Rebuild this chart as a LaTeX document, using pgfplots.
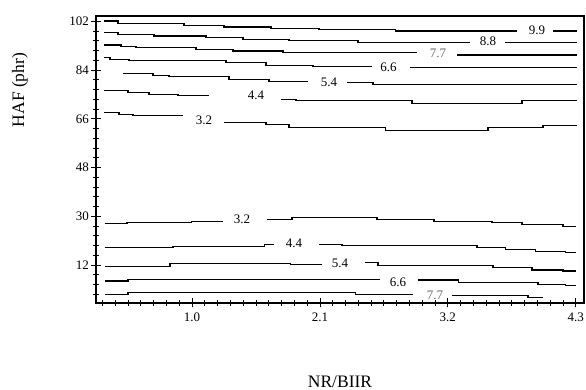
\documentclass[border=0pt]{standalone}
\usepackage{fontspec}
\setmainfont{Liberation Serif}
\usepackage{pgfplots}
\pgfplotsset{compat=1.18}
\pgfplotsset{cl/.style={const plot, black, line width=1.1pt, mark=none}}
\tikzset{lab/.style={font=\fontsize{13}{15}\selectfont, inner sep=0pt}}
\begin{document}
\begin{tikzpicture}[x=1pt,y=1pt]
\useasboundingbox (0,0) rectangle (586,390);
\begin{axis}[
  at={(96pt,87pt)}, anchor=south west,
  width=488pt, height=287pt, scale only axis,
  xmin=0.174, xmax=4.371, ymin=-2.02, ymax=103.95,
  xtick={1.0,2.1,3.2,4.3}, xticklabels={1.0,2.1,3.2,4.3},
  ytick={12,30,48,66,84,102}, yticklabels={12,30,48,66,84,102},
  minor xtick={0.23,0.34,...,4.35},
  minor ytick={1.2,4.8,...,103},
  tick pos=left, tick align=center,
  major tick length=9pt, minor tick length=6pt,
  every tick/.style={black, line width=0.8pt},
  axis line style={line width=1.3pt},
  ticklabel style={font=\fontsize{13}{15}\selectfont},
  xticklabel style={yshift=-2pt},
  yticklabel style={xshift=1pt},
  xlabel={NR/BIIR}, ylabel={HAF (phr)},
  xlabel style={at={(axis description cs:0.5,-0.294)}, anchor=base, font=\fontsize{17.5}{20}\selectfont},
  ylabel style={at={(axis description cs:-0.156,0.742)}, anchor=center, font=\fontsize{17.5}{20}\selectfont},
  clip=false
]
% 9.9
\addplot[cl] coordinates {(0.243,102.11)(0.363,101.15)(0.931,100.52)(1.275,99.89)(1.679,99.30)(2.092,98.98)(2.746,98.42)(3.795,98.42)};
\addplot[cl] coordinates {(4.104,98.42)(4.311,98.42)};
% 8.8
\addplot[cl] coordinates {(0.243,97.83)(0.363,97.20)(0.673,96.57)(1.120,95.98)(1.438,95.36)(1.834,94.99)(2.427,94.14)(3.391,94.14)};
\addplot[cl] coordinates {(3.692,94.14)(4.311,94.14)};
% 7.7
\addplot[cl] coordinates {(0.243,93.25)(0.389,92.66)(0.518,92.29)(1.034,91.67)(1.352,91.04)(1.782,90.45)(2.935,90.45)};
\addplot[cl] coordinates {(3.279,89.56)(4.311,89.56)};
% 6.6
\addplot[cl] coordinates {(0.243,88.61)(0.294,87.98)(0.458,87.61)(1.292,86.76)(1.636,85.77)(2.040,85.29)(2.548,85.29)};
\addplot[cl] coordinates {(2.875,84.92)(4.311,84.92)};
% 5.4
\addplot[cl] coordinates {(0.406,82.70)(0.664,82.08)(0.802,81.45)(1.318,80.34)(1.662,79.60)(1.997,79.60)};
\addplot[cl] coordinates {(2.333,79.38)(2.556,78.76)(4.311,78.76)};
% 4.4
\addplot[cl] coordinates {(0.243,76.54)(0.449,75.55)(0.630,75.07)(0.879,74.44)(1.146,74.44)};
\addplot[cl] coordinates {(1.765,73.22)(1.894,72.60)(2.892,71.64)(3.838,72.60)(4.311,72.60)};
% 3.2
\addplot[cl] coordinates {(0.243,68.32)(0.372,67.69)(0.492,67.06)(0.922,67.06)};
\addplot[cl] coordinates {(1.275,64.63)(1.636,63.74)(1.834,62.78)(2.660,61.53)(3.545,62.78)(4.018,63.37)(4.311,63.37)};
% bottom 3.2
\addplot[cl] coordinates {(0.251,27.37)(0.441,27.74)(0.999,28.22)(1.266,28.22)};
\addplot[cl] coordinates {(1.645,28.85)(1.860,29.44)(2.591,28.85)(3.081,28.22)(3.580,27.74)(3.838,27.00)(4.190,26.12)(4.302,26.12)};
% bottom 4.4
\addplot[cl] coordinates {(0.251,18.52)(0.836,19.00)(1.627,19.74)(1.705,19.74)};
\addplot[cl] coordinates {(2.092,19.74)(2.290,19.11)(3.451,18.52)(3.692,17.78)(3.950,17.15)(4.208,16.68)(4.302,16.68)};
% bottom 5.4
\addplot[cl] coordinates {(0.251,11.62)(0.810,12.62)(1.843,12.36)(2.118,12.36)};
\addplot[cl] coordinates {(2.487,12.84)(2.599,11.99)(3.588,11.14)(3.924,10.15)(4.190,9.78)(4.302,9.78)};
% bottom 6.6
\addplot[cl] coordinates {(0.251,6.09)(0.449,6.72)(2.617,6.72)};
\addplot[cl] coordinates {(2.943,6.46)(3.288,5.46)(3.975,4.87)(4.208,4.36)(4.302,4.36)};
% bottom 7.7
\addplot[cl] coordinates {(0.251,1.19)(0.449,1.77)(2.402,1.19)(2.900,1.19)};
\addplot[cl] coordinates {(3.236,0.81)(3.889,0.07)(4.018,0.07)};
% labels
\node[lab] at (axis cs:3.967,98.6) {9.9};
\node[lab] at (axis cs:3.545,94.6) {8.8};
\node[lab, black!60] at (axis cs:3.115,90.0) {7.7};
\node[lab] at (axis cs:2.690,85.0) {6.6};
\node[lab] at (axis cs:2.178,79.4) {5.4};
\node[lab] at (axis cs:1.550,74.5) {4.4};
\node[lab] at (axis cs:1.103,65.5) {3.2};
\node[lab] at (axis cs:1.430,28.9) {3.2};
\node[lab] at (axis cs:1.877,20.0) {4.4};
\node[lab] at (axis cs:2.273,12.8) {5.4};
\node[lab] at (axis cs:2.771,5.8) {6.6};
\node[lab, black!60] at (axis cs:3.090,0.9) {7.7};
\end{axis}
\end{tikzpicture}
\end{document}
